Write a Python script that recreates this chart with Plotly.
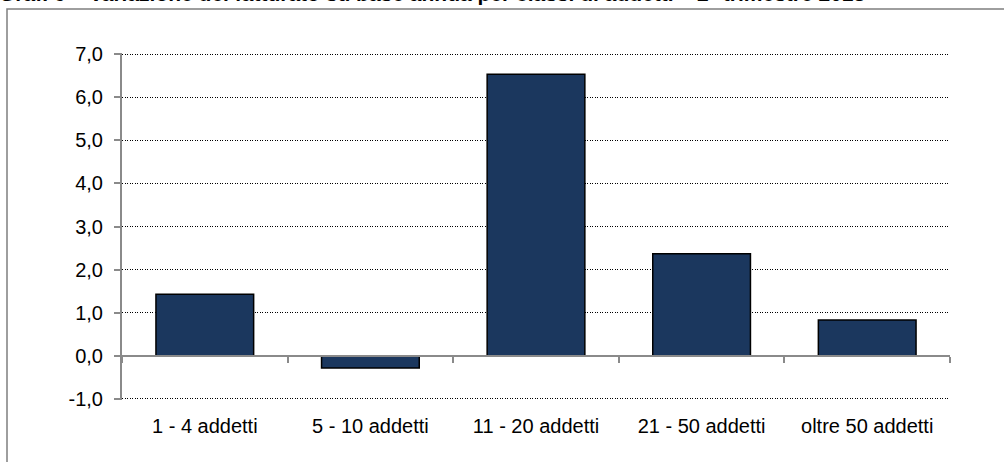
import plotly.graph_objects as go

# data
categories = ["1 - 4 addetti", "5 - 10 addetti", "11 - 20 addetti",
              "21 - 50 addetti", "oltre 50 addetti"]
variazione = [1.43, -0.28, 6.53, 2.37, 0.83]
y_ticks = [-1, 0, 1, 2, 3, 4, 5, 6, 7]
y_tick_labels = ["-1,0", "0,0", "1,0", "2,0", "3,0", "4,0", "5,0", "6,0", "7,0"]

title = ("Graf. 6 – Variazione del fatturato su base annua per classi di addetti"
         " – 2° trimestre 2013")

W, H = 1004, 462
L, R, T, B = 122, 54, 53, 62
pw, ph = W - L - R, H - T - B

AXIS_GREY = "#8a8a8a"
FONT = "Liberation Sans, Arial, sans-serif"

fig = go.Figure()
fig.add_trace(go.Bar(
    x=categories, y=variazione,
    marker=dict(color="#1b375e", line=dict(color="#000000", width=1.5)),
    hoverinfo="skip",
))
# helper trace that carries the category axis drawn across the zero line
fig.add_trace(go.Scatter(
    x=categories, y=[0] * len(categories), xaxis="x2",
    mode="markers", marker=dict(opacity=0), hoverinfo="skip",
))

# a little padding so the gridlines at 7,0 and -1,0 are still drawn
pad = 0.025
zero_pos = (0 - y_ticks[0] + pad) / (y_ticks[-1] - y_ticks[0] + 2 * pad)

fig.update_layout(
    width=W, height=H,
    margin=dict(l=L, r=R, t=T, b=B),
    paper_bgcolor="white", plot_bgcolor="white",
    showlegend=False,
    bargap=0.41,
    font=dict(family=FONT, size=20, color="#000000"),
    xaxis=dict(
        type="category", range=[-0.5, 4.5],
        showline=False, showgrid=False, zeroline=False, ticks="",
        tickfont=dict(size=20), ticklabelstandoff=12,
    ),
    xaxis2=dict(
        type="category", range=[-0.5, 4.5], overlaying="x",
        anchor="free", position=zero_pos,
        categoryorder="array", categoryarray=categories,
        showline=True, linecolor=AXIS_GREY, linewidth=2,
        ticks="outside", tickson="boundaries", ticklen=6,
        tickcolor=AXIS_GREY, tickwidth=2,
        showticklabels=False, showgrid=False, zeroline=False,
    ),
    yaxis=dict(
        range=[y_ticks[0] - pad, y_ticks[-1] + pad],
        tickmode="array", tickvals=y_ticks, ticktext=y_tick_labels,
        showline=True, linecolor=AXIS_GREY, linewidth=2,
        ticks="outside", ticklen=6, tickcolor=AXIS_GREY, tickwidth=2,
        showgrid=True, gridcolor="#000000", gridwidth=1, griddash="1px,1.5px",
        zeroline=False, tickfont=dict(size=20), ticklabelstandoff=7,
    ),
)

# outer chart frame (cut at the right and bottom like the reference)
fig.add_shape(
    type="rect", xref="paper", yref="paper",
    x0=(7 - L) / pw, x1=(W + 20 - L) / pw,
    y0=-(B + 20) / ph, y1=1 + (T - 9) / ph,
    line=dict(color="#7f7f7f", width=1.5), fillcolor="rgba(0,0,0,0)",
    layer="below",
)

# title, clipped at the top edge of the page
fig.add_annotation(
    text=title, xref="paper", yref="paper",
    x=-L / pw, y=1, xanchor="left", yanchor="middle",
    yshift=T + 7, xshift=-3, showarrow=False,
    font=dict(family=FONT, size=21, color="#000000", weight="bold"),
)

fig.write_html("out.html", config={"displayModeBar": False},
               post_script="document.body.style.margin='0';")
